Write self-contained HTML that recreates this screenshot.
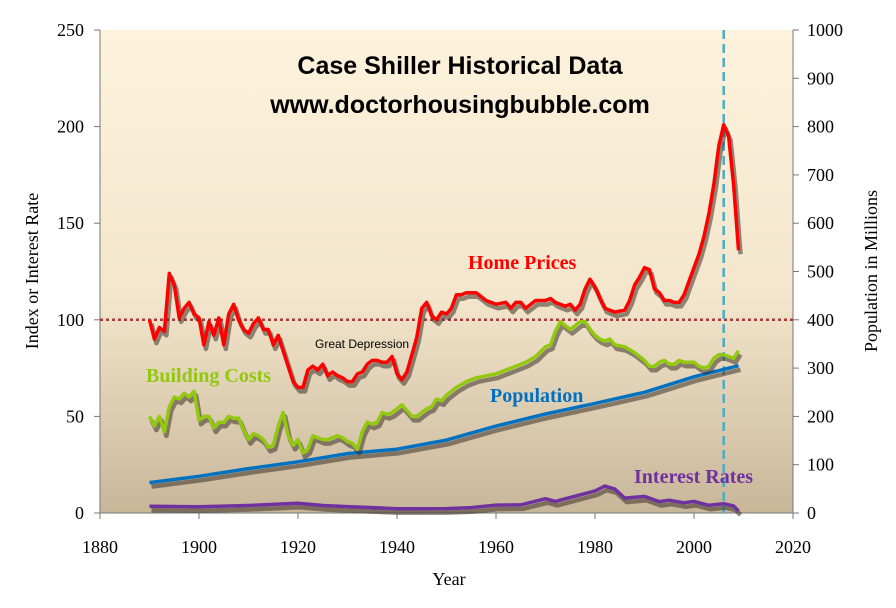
<!DOCTYPE html>
<html><head><meta charset="utf-8"><style>
body{margin:0;background:#fff;}
svg{display:block;font-family:"Liberation Serif",serif;}
</style></head><body>
<svg width="896" height="608" viewBox="0 0 896 608">
<defs>
<linearGradient id="bg" x1="0" y1="0" x2="0" y2="1">
<stop offset="0" stop-color="#fdf2dc"/><stop offset="0.55" stop-color="#f3e6cc"/><stop offset="1" stop-color="#c8b699"/>
</linearGradient>
</defs>
<rect x="100" y="30" width="693" height="483" fill="url(#bg)"/>
<g id="axes"></g>
<g id="series"></g>
<text x="460" y="74" text-anchor="middle" font-family="Liberation Sans,sans-serif" font-weight="bold" font-size="25">Case Shiller Historical Data</text>
<text x="460" y="113" text-anchor="middle" font-family="Liberation Sans,sans-serif" font-weight="bold" font-size="25">www.doctorhousingbubble.com</text>
<text x="468" y="269" fill="#ff0000" font-weight="bold" font-size="20">Home Prices</text>
<text x="146" y="382" fill="#92c80e" font-weight="bold" font-size="20">Building Costs</text>
<text x="490" y="402" fill="#0070c0" font-weight="bold" font-size="20">Population</text>
<text x="634" y="483" fill="#7030a0" font-weight="bold" font-size="20">Interest Rates</text>
<text x="315" y="348" font-family="Liberation Sans,sans-serif" font-size="12">Great Depression</text>
<text x="449" y="585" text-anchor="middle" font-size="18">Year</text>
<text transform="translate(38,271) rotate(-90)" text-anchor="middle" font-size="18">Index or Interest Rate</text>
<text transform="translate(877,271) rotate(-90)" text-anchor="middle" font-size="18">Population in Millions</text>
</svg>
<script>
const hpYears=[1890,1891,1892,1893,1894,1895,1896,1897,1898,1899,1900,1901,1902,1903,1904,1905,1906,1907,1908,1909,1910,1911,1912,1913,1914,1915,1916,1917,1918,1919,1920,1921,1922,1923,1924,1925,1926,1927,1928,1929,1930,1931,1932,1933,1934,1935,1936,1937,1938,1939,1940,1941,1942,1943,1944,1945,1946,1947,1948,1949,1950,1951,1952,1953,1954,1955,1956,1958,1960,1962,1963,1964,1965,1966,1968,1970,1971,1972,1974,1975,1976,1977,1978,1979,1980,1981,1982,1984,1986,1987,1988,1989,1990,1991,1992,1993,1994,1995,1996,1997,1998,1999,2000,2001,2002,2003,2004,2005,2006,2007,2008,2009];
const homePrices=[100,90,96,94,124,118,101,106,109,103,101,87,99,92,101,87,103,108,100,95,93,98,101,95,95,87,92,84,76,68,65,65,74,76,74,77,71,73,71,70,68,68,72,73,77,79,79,78,78,81,72,69,73,82,91,106,109,102,100,104,103,106,113,113,114,114,114,110,108,109,106,109,109,106,110,110,111,109,107,108,105,108,116,121,117,111,106,104,105,110,118,122,127,126,116,114,110,110,109,109,113,120,127,134,143,155,170,190,201,195,170,136];
const bcYears=[1890,1891,1892,1893,1894,1895,1896,1897,1898,1899,1900,1901,1902,1903,1904,1905,1906,1907,1908,1909,1910,1911,1912,1913,1914,1915,1916,1917,1918,1919,1920,1921,1922,1923,1924,1925,1926,1927,1928,1929,1930,1931,1932,1933,1934,1935,1936,1937,1938,1939,1940,1941,1942,1943,1944,1945,1946,1947,1948,1949,1950,1952,1954,1956,1958,1960,1962,1964,1966,1968,1970,1971,1972,1973,1974,1975,1976,1977,1978,1979,1980,1981,1982,1983,1984,1986,1988,1990,1991,1992,1993,1994,1995,1996,1997,1998,2000,2001,2002,2003,2004,2005,2006,2007,2008,2009];
const buildingCosts=[50,45,50,42,55,60,59,62,60,63,48,50,50,44,47,47,50,49,49,43,38,41,40,38,34,35,45,52,40,35,38,31,33,40,39,38,38,39,40,39,37,36,33,42,47,46,47,52,51,52,54,56,53,50,50,52,54,55,59,58,61,65,68,70,71,72,74,76,78,81,86,87,94,99,97,95,97,99,99,95,92,90,89,90,87,86,83,79,76,76,78,79,77,77,79,78,78,76,75,76,80,82,82,81,80,84];
const popYears=[1890,1900,1910,1920,1930,1940,1950,1960,1970,1980,1990,2000,2009];
const population=[63,76,92,106,123,132,151,180,205,227,250,282,305];
const irYears=[1890,1900,1910,1920,1925,1930,1940,1950,1955,1960,1965,1970,1972,1975,1980,1982,1984,1986,1990,1993,1995,1998,2000,2003,2006,2008,2009];
const interestRates=[3.5,3.2,3.9,5,3.9,3.3,2.2,2.3,2.8,4.1,4.2,7.4,6,8,11.4,13.9,12.4,7.7,8.6,5.9,6.6,5.3,6.0,4,4.8,3.7,1];
const xTicks=[1880,1900,1920,1940,1960,1980,2000,2020];
const leftTicks=[0,50,100,150,200,250];
const rightTicks=[0,100,200,300,400,500,600,700,800,900,1000];

const NS="http://www.w3.org/2000/svg";
const X0=100,X1=793,Y0=513,Y1=30;
const x=v=>X0+(v-1880)/140*(X1-X0);
const yL=v=>Y0-v/250*(Y0-Y1);
const yR=v=>Y0-v/1000*(Y0-Y1);
function mk(tag,attrs,parent){const e=document.createElementNS(NS,tag);for(const k in attrs)e.setAttribute(k,attrs[k]);parent.appendChild(e);return e;}
const ax=document.getElementById('axes'),sg=document.getElementById('series');
let e;
e=mk('line',{x1:X0,y1:Y1,x2:X0,y2:Y0,stroke:'#777','stroke-width':1},ax);


e=mk('line',{x1:X1,y1:Y1,x2:X1,y2:Y0,stroke:'#777','stroke-width':1},ax);


e=mk('line',{x1:X0,y1:Y0,x2:X1,y2:Y0,stroke:'#777','stroke-width':1},ax);


xTicks.forEach(t=>{mk('line',{x1:x(t),y1:Y0,x2:x(t),y2:Y0+6,stroke:'#777'},ax);
e=mk('text',{x:x(t),y:553,'text-anchor':'middle','font-size':18},ax);e.textContent=t;

});
leftTicks.forEach(t=>{mk('line',{x1:X0-6,y1:yL(t),x2:X0,y2:yL(t),stroke:'#777'},ax);
e=mk('text',{x:84,y:yL(t)+6,'text-anchor':'end','font-size':18},ax);e.textContent=t;

});
rightTicks.forEach(t=>{mk('line',{x1:X1,y1:yR(t),x2:X1+6,y2:yR(t),stroke:'#777'},ax);
e=mk('text',{x:807,y:yR(t)+6,'text-anchor':'start','font-size':18},ax);e.textContent=t;

});
e=mk('line',{x1:X0,y1:yL(100),x2:X1,y2:yL(100),stroke:'#a83c3c','stroke-width':2.5,'stroke-dasharray':'3 3'},ax);


e=mk('line',{x1:x(2006),y1:Y1,x2:x(2006),y2:Y0,stroke:'#4bacc6','stroke-width':2.5,'stroke-dasharray':'9 5'},ax);


function series(years,vals,yf,color,name){
 const d=years.map((yr,i)=>(i?'L':'M')+x(yr).toFixed(1)+','+yf(vals[i]).toFixed(1)).join(' ');
 mk('path',{d:d,fill:'none',stroke:'rgba(60,50,40,0.55)','stroke-width':4.5,transform:'translate(2,4)','stroke-linejoin':'round'},sg);
 const p=mk('path',{d:d,fill:'none',stroke:color,'stroke-width':3.5,'stroke-linejoin':'round'},sg);
 
 
}
series(irYears,interestRates,yL,'#7030a0','interest-rates-line');
series(popYears,population,yR,'#0070c0','population-line');
series(bcYears,buildingCosts,yL,'#92c80e','building-costs-line');
series(hpYears,homePrices,yL,'#ff0000','home-prices-line');
</script>
</body></html>
